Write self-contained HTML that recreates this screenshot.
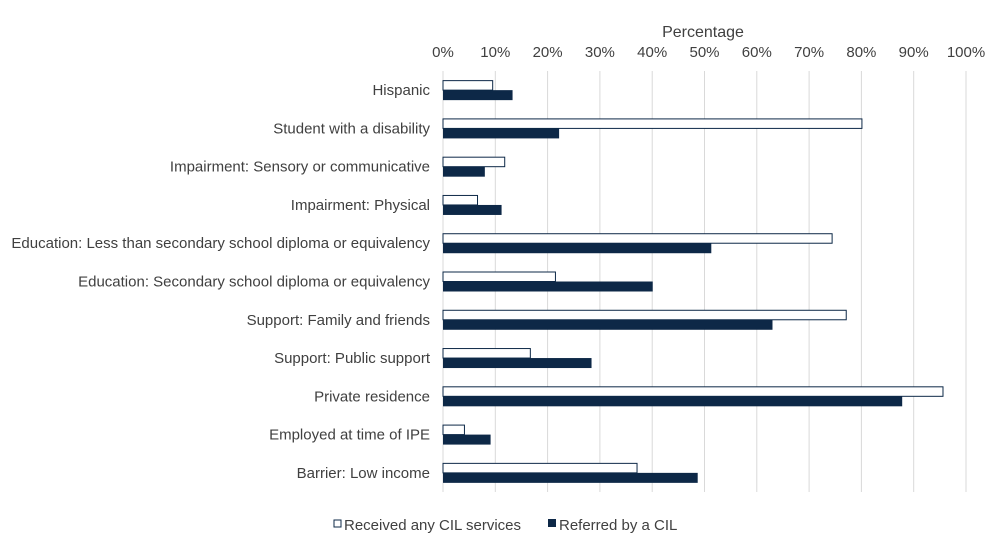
<!DOCTYPE html>
<html><head><meta charset="utf-8"><style>
body{margin:0;background:#fff;}
svg text{font-family:"Liberation Sans",sans-serif;font-size:15px;fill:#404040;}
</style></head><body>
<svg id="chart" width="1004" height="548" xmlns="http://www.w3.org/2000/svg">
<text x="703" y="37" text-anchor="middle" style="font-size:16px">Percentage</text>
<g id="grid"></g><g id="ticks"></g><g id="cats"></g><g id="bars"></g>
<g>
<rect x="334" y="520" width="7" height="7" fill="#fff" stroke="#0d2847" stroke-width="1"/>
<text x="344" y="530">Received any CIL services</text>
<rect x="548" y="519" width="8" height="8" fill="#0d2847"/>
<text x="559" y="530">Referred by a CIL</text>
</g>
</svg>
<script>
const categories=["Hispanic","Student with a disability","Impairment: Sensory or communicative","Impairment: Physical","Education: Less than secondary school diploma or equivalency","Education: Secondary school diploma or equivalency","Support: Family and friends","Support: Public support","Private residence","Employed at time of IPE","Barrier: Low income"];
const received=[9.5,80.1,11.8,6.6,74.4,21.5,77.1,16.7,95.6,4.1,37.1];
const referred=[13.3,22.2,8.0,11.2,51.3,40.1,63.0,28.4,87.8,9.1,48.7];
const tickValues=[0,10,20,30,40,50,60,70,80,90,100];
const NS="http://www.w3.org/2000/svg";
const plotX0=443,plotX1=966,plotTop=71,plotBottom=492;
const band=(plotBottom-plotTop)/categories.length;
function xs(v){return plotX0+(plotX1-plotX0)*v/100;}
function yc(i){return plotTop+band*(i+0.5);}
function mk(t,a,p){const e=document.createElementNS(NS,t);for(const k in a)e.setAttribute(k,a[k]);document.getElementById(p).appendChild(e);return e;}
tickValues.forEach((v)=>{
  const g=mk('line',{x1:xs(v),x2:xs(v),y1:plotTop,y2:plotBottom,stroke:'#d9d9d9','stroke-width':1},'grid');
  
  
  const t=mk('text',{x:xs(v),y:57,'text-anchor':'middle'},'ticks');
  t.textContent=v+'%';
  
  
});
categories.forEach((c,i)=>{
  const t=mk('text',{x:430,y:yc(i)+5,'text-anchor':'end'},'cats');
  t.textContent=c;
  
  
  const a=mk('rect',{x:plotX0,y:yc(i)-9.5,width:xs(received[i])-plotX0,height:9.5,fill:'#fff',stroke:'#0d2847','stroke-width':1},'bars');
  
  
  const b=mk('rect',{x:plotX0,y:yc(i),width:xs(referred[i])-plotX0,height:10,fill:'#0d2847'},'bars');
  
  
});
</script>
</body></html>
